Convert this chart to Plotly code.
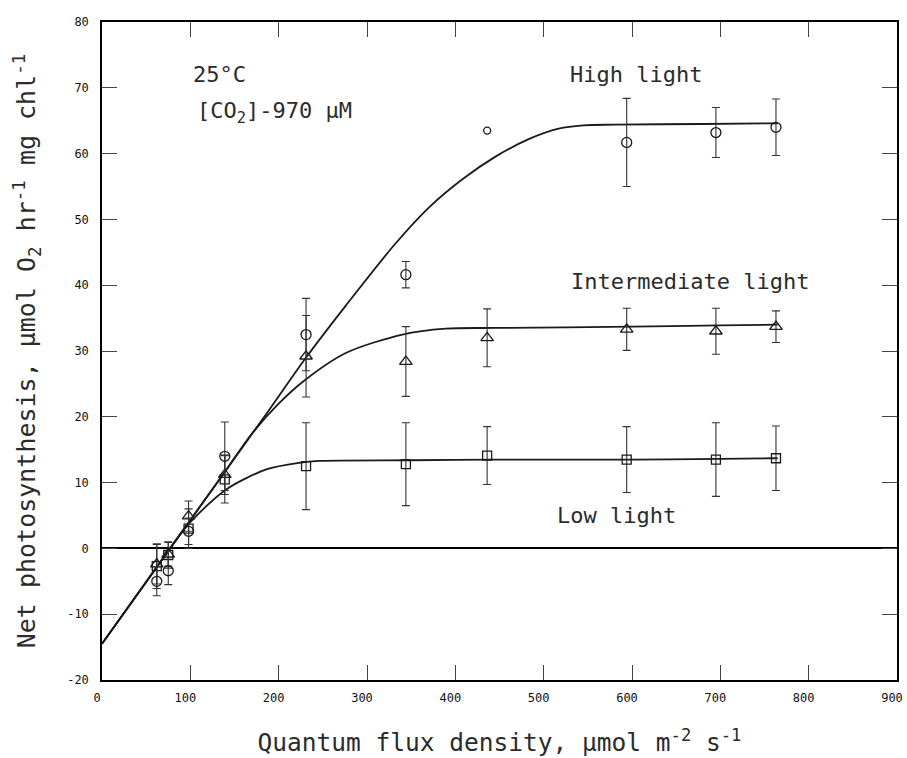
import plotly.graph_objects as go

# Measured net photosynthesis vs. quantum flux density
flux = [62, 75, 98, 139, 231, 344, 436, 594, 695, 763]

high_y = [-5.0, -3.4, 2.6, 14.0, 32.5, 41.6, 63.5, 61.7, 63.2, 64.0]
high_err = [2.2, 2.1, 2.0, 5.2, 5.5, 2.0, None, 6.7, 3.8, 4.3]

mid_y = [-2.4, -0.9, 4.9, 11.2, 29.2, 28.4, 32.0, 33.3, 33.0, 33.7]
mid_err = [3.0, 1.8, 2.3, 3.0, 6.2, 5.3, 4.4, 3.2, 3.5, 2.4]

low_y = [-2.7, -1.0, 3.0, 10.5, 12.5, 12.8, 14.1, 13.5, 13.5, 13.7]
low_err = [3.4, 2.0, 3.0, 3.6, 6.6, 6.3, 4.4, 5.0, 5.6, 4.9]

# Fitted response curves
high_fit_x = [0, 100, 140, 190, 231, 276, 332, 370, 408, 445, 483, 517, 545, 580, 680, 765]
high_fit_y = [-14.5, 4.3, 11.8, 21.2, 29.0, 36.9, 46.3, 51.8, 56.1, 59.5, 62.2, 63.8, 64.3, 64.4, 64.5, 64.6]

mid_fit_x = [0, 100, 140, 170, 200, 227, 276, 340, 389, 445, 600, 700, 765]
mid_fit_y = [-14.5, 4.3, 11.8, 17.5, 22.0, 25.3, 29.7, 32.5, 33.4, 33.5, 33.7, 33.9, 34.0]

low_fit_x = [0, 50, 90, 100, 141, 186, 223, 246, 350, 440, 600, 700, 765]
low_fit_y = [-14.5, -5.1, 2.4, 4.0, 9.0, 12.0, 13.0, 13.3, 13.4, 13.5, 13.5, 13.6, 13.7]

x_ticks = [0, 100, 200, 300, 400, 500, 600, 700, 800, 900]
y_ticks = [-20, -10, 0, 10, 20, 30, 40, 50, 60, 70, 80]

INK = "#1a1a1a"
TXT = "#2b2b2b"
FONT = "DejaVu Sans Mono"

fig = go.Figure()

for fx, fy in [(high_fit_x, high_fit_y), (mid_fit_x, mid_fit_y), (low_fit_x, low_fit_y)]:
    fig.add_trace(go.Scatter(
        x=fx, y=fy, mode="lines",
        line=dict(color=INK, width=1.8, shape="spline", smoothing=0.8),
        hoverinfo="skip", showlegend=False))


def add_points(xs, ys, errs, symbol, size):
    """Readings with an error estimate get bars; bare readings get a smaller mark."""
    with_err = [(x, y, e) for x, y, e in zip(xs, ys, errs) if e is not None]
    bare = [(x, y) for x, y, e in zip(xs, ys, errs) if e is None]
    fig.add_trace(go.Scatter(
        x=[p[0] for p in with_err], y=[p[1] for p in with_err], mode="markers",
        marker=dict(symbol=symbol, size=size, color=INK, line=dict(width=1.3, color=INK)),
        error_y=dict(type="data", array=[p[2] for p in with_err], visible=True,
                     color="#333333", thickness=1.1, width=4),
        showlegend=False))
    if bare:
        fig.add_trace(go.Scatter(
            x=[p[0] for p in bare], y=[p[1] for p in bare], mode="markers",
            marker=dict(symbol=symbol, size=size - 3, color=INK,
                        line=dict(width=1.3, color=INK)),
            showlegend=False))


add_points(flux, low_y, low_err, "square-open", 9)
add_points(flux, mid_y, mid_err, "triangle-up-open", 11)
add_points(flux, high_y, high_err, "circle-open", 10)

label_font = dict(family=FONT, size=22, color=TXT)
annotations = [
    dict(x=605, y=72, text="High light"),
    dict(x=666, y=40.5, text="Intermediate light"),
    dict(x=583, y=5.0, text="Low light"),
    dict(x=101, y=72, text="25°C", xanchor="left"),
    dict(x=105, y=66.2, text="[CO<sub>2</sub>]-970 μM", xanchor="left"),
]
for a in annotations:
    fig.add_annotation(
        x=a["x"], y=a["y"], text=a["text"], showarrow=False,
        xanchor=a.get("xanchor", "center"), yanchor="middle",
        font=label_font)

axis_common = dict(
    showline=True, linecolor="black", linewidth=1.5, mirror="ticks",
    ticks="inside", ticklen=15, tickwidth=1, tickcolor="#444444",
    showgrid=False,
    tickfont=dict(family=FONT, size=12, color="#111111"),
)

fig.update_xaxes(
    range=[0, 900], tickvals=x_ticks, ticktext=[str(v) for v in x_ticks],
    zeroline=False, ticklabelstandoff=6, ticklabelshift=-5,
    automargin=False,
    title=dict(text="Quantum flux density, μmol m<sup>-2</sup> s<sup>-1</sup>",
               font=dict(family=FONT, size=24.5, color=TXT), standoff=30),
    **axis_common)

fig.update_yaxes(
    range=[-20, 80], tickvals=y_ticks, ticktext=[str(v) for v in y_ticks],
    zeroline=True, zerolinecolor="black", zerolinewidth=2,
    ticklabelstandoff=9,
    title=dict(text="Net photosynthesis, μmol O<sub>2</sub> hr<sup>-1</sup> mg chl<sup>-1</sup>",
               font=dict(family=FONT, size=25, color=TXT), standoff=24),
    **axis_common)

fig.update_layout(
    width=907, height=758,
    margin=dict(l=102, r=8, t=22, b=78),
    paper_bgcolor="white", plot_bgcolor="white",
    showlegend=False,
)

fig.write_html("out.html")
